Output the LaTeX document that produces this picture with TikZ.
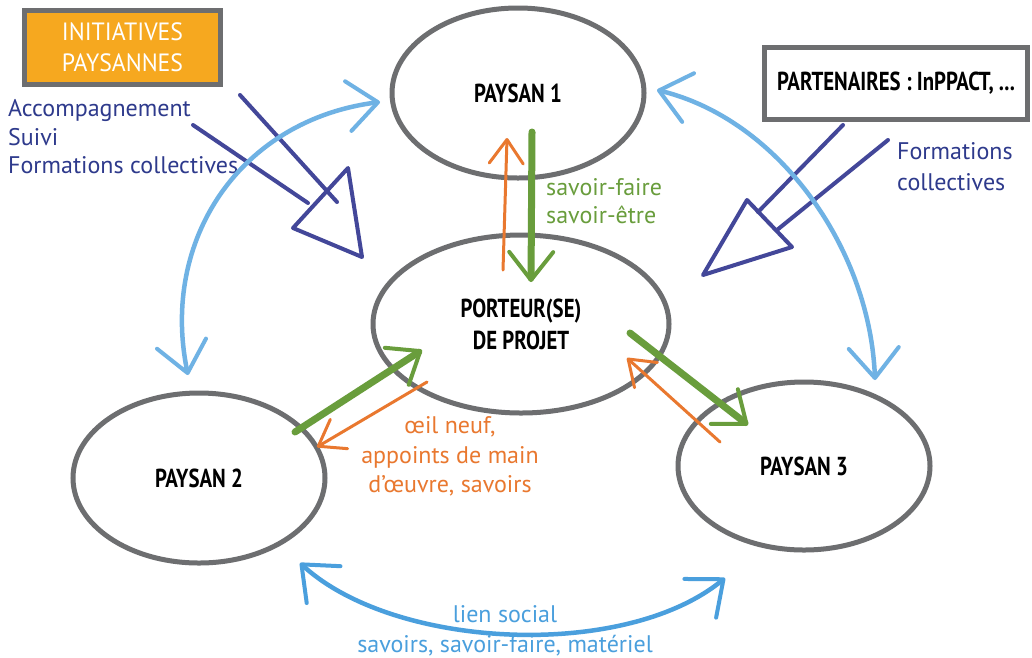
\documentclass[tikz,border=0pt]{standalone}
\usepackage{fontspec}
\setmainfont{PT Sans}
\newfontfamily\lblfont{PT Sans Bold}[FakeStretch=0.8]
\newfontfamily\boxfont{PT Sans}[FakeStretch=0.95]
\newfontfamily\txtfont{PT Sans}
\usetikzlibrary{arrows.meta,calc,shapes.geometric}
\definecolor{ellgray}{HTML}{6D6E70}
\definecolor{boxorange}{HTML}{F6A81F}
\definecolor{navy}{HTML}{2E3A8C}
\definecolor{navyarrow}{HTML}{434799}
\definecolor{lblue}{HTML}{6FB2E4}
\definecolor{mblue}{HTML}{4A9FDD}
\definecolor{fgreen}{HTML}{699D3C}
\definecolor{forange}{HTML}{E9782F}
\tikzset{
  farm/.style={ellipse, draw=ellgray, line width=5pt, fill=white, outer sep=0pt,
    font=\lblfont\fontsize{26}{30}\selectfont, align=center},
  titlebox/.style={rectangle, draw=ellgray, line width=5pt, outer sep=0pt, inner sep=0pt},
  navytxt/.style={text=navy, font=\txtfont\fontsize{24}{28}\selectfont, inner sep=0pt, anchor=base west},
  greentxt/.style={text=fgreen, font=\txtfont\fontsize{24}{28}\selectfont, inner sep=0pt, anchor=base west},
  orangetxt/.style={text=forange, font=\txtfont\fontsize{24}{28}\selectfont, inner sep=0pt, anchor=base},
  bluetxt/.style={text=mblue, font=\txtfont\fontsize{24}{28}\selectfont, inner sep=0pt, anchor=base},
  blueconn/.style={draw=lblue, line width=4.5pt, line cap=round,
    arrows={Straight Barb[length=30pt,width=50pt,line width=4pt,round]-Straight Barb[length=30pt,width=50pt,line width=4pt,round]}},
  greenconn/.style={draw=fgreen, line width=7pt, line cap=round,
    arrows={-Straight Barb[length=28pt,width=44pt,line width=4pt,round]}},
  orangeconn/.style={draw=forange, line width=3pt, line cap=round,
    arrows={-Straight Barb[length=24pt,width=34pt,line width=3pt,round]}},
  navystroke/.style={draw=navyarrow, line width=4pt, line cap=round, line join=round}
}
\begin{document}
\begin{tikzpicture}[x=1pt,y=-1pt]
\useasboundingbox (0,0) rectangle (1032,657);
\fill[white] (0,0) rectangle (1032,657);

% navy hollow arrows (drawn below the nodes)
\draw[navystroke] (240,95) -- (337,202);
\draw[navystroke] (193,125) -- (308,203);
\draw[navystroke] (348,168) -- (293,228) -- (362,257) -- cycle;
\draw[navystroke] (843,125) -- (758,212);
\draw[navystroke] (888,140) -- (777,230);
\draw[navystroke] (747,200) -- (792,247) -- (703,275) -- cycle;

% ellipses
\node[farm, minimum width=252pt, minimum height=170pt] (p1) at (518,93) {PAYSAN 1};
\node[farm, minimum width=296pt, minimum height=178pt] (pp) at (521,324) {PORTEUR(SE)\\[2pt]DE PROJET};
\node[farm, minimum width=252pt, minimum height=170pt] (p2) at (199,478) {PAYSAN 2};
\node[farm, minimum width=252pt, minimum height=168pt] (p3) at (804,466) {PAYSAN 3};

% boxes
\node[titlebox, fill=boxorange, minimum width=196pt, minimum height=74pt,
  text=white, font=\boxfont\fontsize{25}{31}\selectfont, align=center] (ip) at (122.5,47.5) {INITIATIVES\\PAYSANNES};
\node[titlebox, fill=white, minimum width=263pt, minimum height=72pt,
  font=\lblfont\fontsize{26}{30}\selectfont] (part) at (896,83.5) {PARTENAIRES : InPPACT, ...};

% navy texts
\node[navytxt] (acc) at (8,116) {Accompagnement};
\node[navytxt] (sui) at (8,145) {Suivi};
\node[navytxt] (for) at (8,173) {Formations collectives};
\node[navytxt] (for2) at (897,159) {Formations};
\node[navytxt] (col2) at (897,190) {collectives};

% connectors
\draw[blueconn] ($(p2.north)+(-11,-18)$) .. controls (160,240) and (240,120) .. ($(p1.west)+(-12,9)$);
\draw[blueconn] ($(p1.east)+(13,-3)$) .. controls (780,120) and (870,250) .. ($(p3.north)+(71,-2)$);
\draw[blueconn, draw=mblue] ($(p2.south)+(101,0)$) .. controls (395,650) and (625,660) .. ($(p3.south)+(-79,28)$);

\draw[greenconn] ($(p1.south)+(14,-46)$) -- ($(pp.north)+(10,47)$);
\draw[orangeconn] ($(pp.north)+(-18,35)$) -- ($(p1.south)+(-11,-40)$);
\draw[greenconn] ($(p2.east)+(-30,-46)$) -- ($(pp.west)+(49,26)$);
\draw[orangeconn] ($(pp.west)+(54,58)$) -- ($(p2.east)+(-8,-31)$);
\draw[greenconn] ($(pp.east)+(-39,9)$) -- ($(p3.west)+(70,-41)$);
\draw[orangeconn] ($(p3.west)+(42,-24)$) -- ($(pp.east)+(-42,34)$);

% labels
\node[greentxt] (sf) at (546,195) {savoir-faire};
\node[greentxt] (se) at (546,223) {savoir-être};
\node[orangetxt] (o1) at (450,433) {œil neuf,};
\node[orangetxt] (o2) at (450,463) {appoints de main};
\node[orangetxt] (o3) at (450,492) {d’œuvre, savoirs};
\node[bluetxt] (b1) at (505,622) {lien social};
\node[bluetxt] (b2) at (505,652) {savoirs, savoir-faire, matériel};
\end{tikzpicture}
\end{document}
